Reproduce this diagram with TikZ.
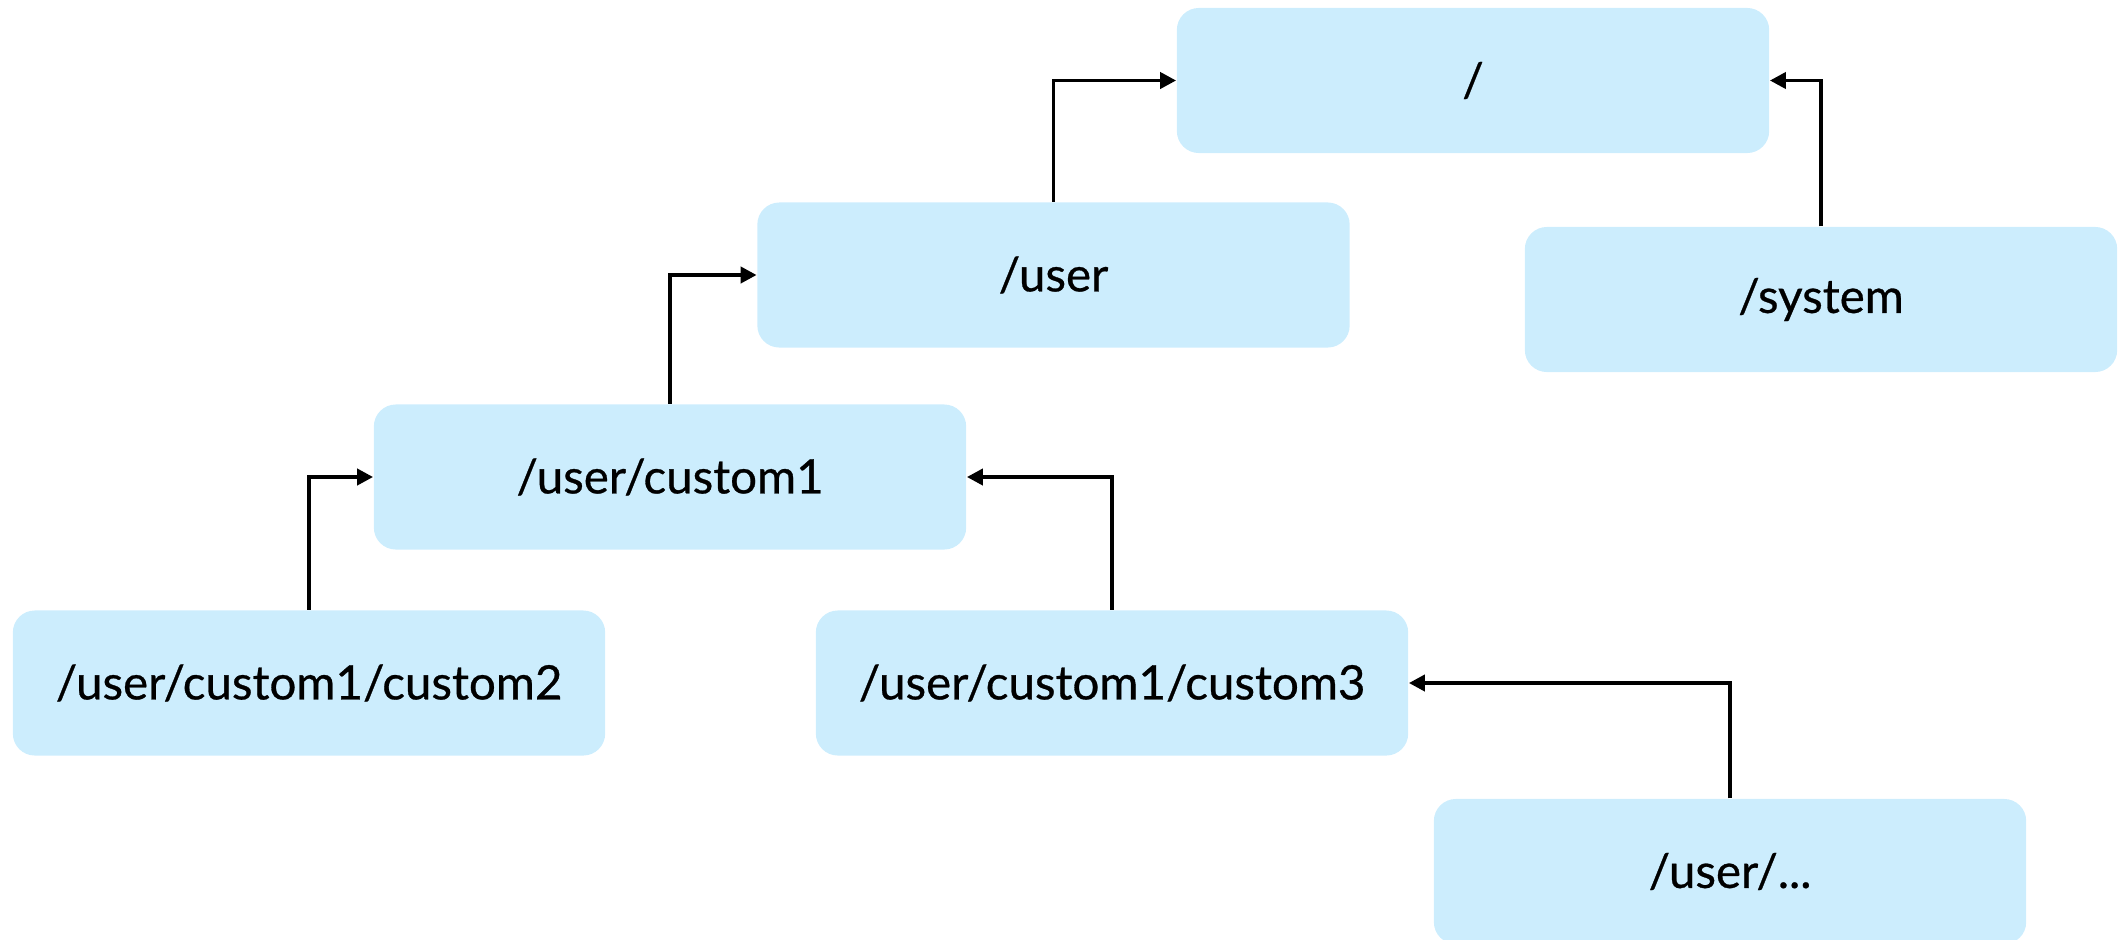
\documentclass[tikz,border=0pt]{standalone}
\usepackage{fontspec}
\setmainfont{Lato}
\newfontfamily\boxfont{Lato}[FakeBold=0.6]
\usetikzlibrary{arrows.meta}
\definecolor{boxfill}{RGB}{204,237,253}
\tikzset{
  pathbox/.style={rectangle, rounded corners=0.22cm, fill=boxfill,
    minimum width=5.92cm, minimum height=1.45cm, inner sep=0pt,
    font=\boxfont\fontsize{13.5pt}{16pt}\selectfont},
  link/.style={draw=black, line width=1.1pt,
    -{Triangle[length=0.16cm,width=0.16cm]}}
}
\begin{document}
\begin{tikzpicture}[x=0.01cm, y=-0.01cm]
  \useasboundingbox (0,0) rectangle (2119,939);
  \node[pathbox] (root)   at (1473,80.5) {/};
  \node[pathbox] (user)   at (1053.5,275) {/user};
  \node[pathbox] (system) at (1821,299.5) {/system};
  \node[pathbox] (c1)     at (670,477) {/user/custom1};
  \node[pathbox] (c2)     at (309,683) {/user/custom1/custom2};
  \node[pathbox] (c3)     at (1112,683) {/user/custom1/custom3};
  \node[pathbox] (more)   at (1730,871.5) {/user/...};
  \draw[link] (user.north)   |- (root.west);
  \draw[link] (system.north) |- (root.east);
  \draw[link] (c1.north)     |- (user.west);
  \draw[link] (c2.north)     |- (c1.west);
  \draw[link] (c3.north)     |- (c1.east);
  \draw[link] (more.north)   |- (c3.east);
\end{tikzpicture}
\end{document}
